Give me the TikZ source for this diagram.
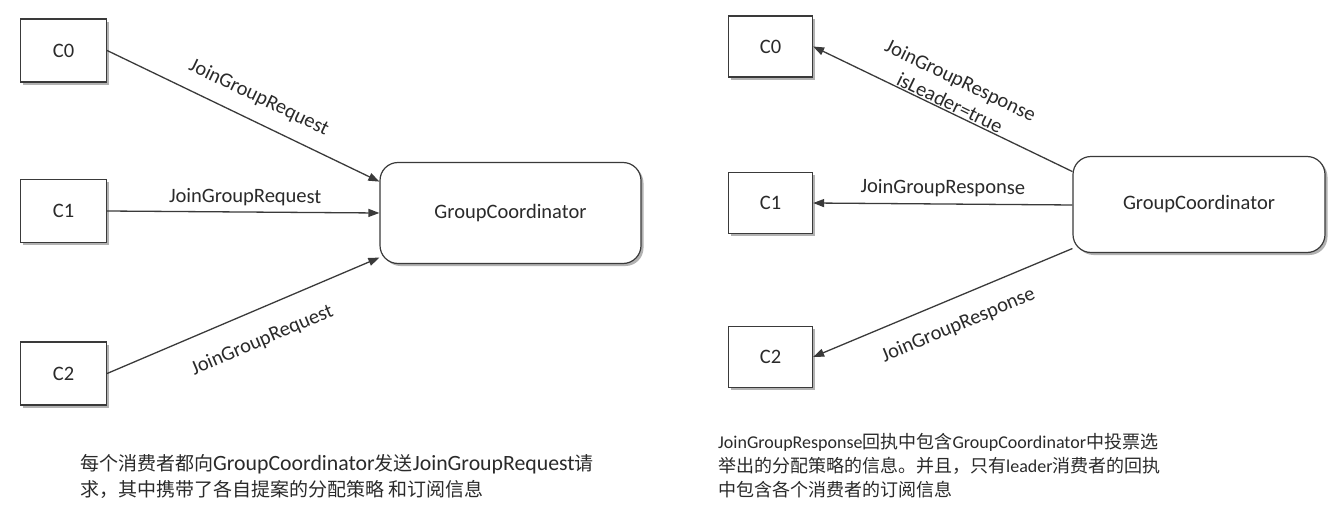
\documentclass[tikz,border=0pt]{standalone}
\usepackage{fontspec}
\setmainfont{Carlito}
\newfontfamily\cjk{Noto Sans CJK SC}
\usetikzlibrary{arrows.meta,shadows,calc}
\definecolor{ink}{HTML}{2A2A2A}
\definecolor{edgec}{HTML}{3A3A3A}
\tikzset{
  cbox/.style={draw=edgec, line width=1.2pt, fill=white, minimum width=86pt,
    minimum height=63pt, inner sep=0pt, text=ink,
    font=\fontsize{20.5}{24}\selectfont,
    drop shadow={shadow xshift=2.5pt, shadow yshift=-2.5pt, fill=black, opacity=0.3}},
  gcbox/.style={cbox, rounded corners=18pt},
  arr/.style={draw=edgec, line width=1.3pt, -{Triangle[length=11pt,width=8pt]}},
  lbl/.style={font=\fontsize{20.5}{25}\selectfont, text=ink, sloped, inner sep=0pt},
  noteL/.style={font=\fontsize{21.8}{24}\selectfont, text=ink, anchor=base west, inner sep=0pt},
  noteR/.style={font=\fontsize{18}{24}\selectfont, text=ink, anchor=base west, inner sep=0pt},
}
\newcommand{\zhL}[1]{{\fontsize{19}{24}\cjk #1}}
\newcommand{\zhR}[1]{{\fontsize{18}{24}\cjk #1}}
\begin{document}
\begin{tikzpicture}[x=1pt,y=-1pt]
\path[use as bounding box] (0,0) rectangle (1342,530);
% ---------- left diagram ----------
\node[cbox] (lc0) at (63.5,50.5) {C0};
\node[cbox] (lc1) at (63.5,211) {C1};
\node[cbox] (lc2) at (63.5,373.5) {C2};
\node[gcbox, minimum width=261pt, minimum height=101pt] (lgc) at (510.5,213) {GroupCoordinator};
\coordinate (lgcA) at ($(lgc.north west)!0.193!(lgc.south west)$);
\coordinate (lgcB) at ($(lgc.north west)!0.5!(lgc.south west)$);
\coordinate (lgcC) at ($(lgc.north west)!0.936!(lgc.south west)$);
\draw[arr] (lc0.east) -- (lgcA) node[lbl, pos=0.52, above=14pt] {JoinGroupRequest};
\draw[arr] (lc1.east) -- (lgcB) node[lbl, pos=0.507, above=5.5pt] {JoinGroupRequest};
\draw[arr] (lc2.east) -- (lgcC) node[lbl, pos=0.526, below=21pt] {JoinGroupRequest};
% ---------- right diagram ----------
\node[cbox, minimum width=84pt, minimum height=61pt] (rc0) at (770.5,46.5) {C0};
\node[cbox, minimum width=84pt, minimum height=61pt] (rc1) at (770.5,203) {C1};
\node[cbox, minimum width=84pt, minimum height=61pt] (rc2) at (770.5,357) {C2};
\node[gcbox, minimum width=252pt, minimum height=96pt] (rgc) at (1199,204.5) {GroupCoordinator};
\coordinate (rgcA) at ($(rgc.north west)!0.161!(rgc.south west)$);
\coordinate (rgcB) at ($(rgc.north west)!0.505!(rgc.south west)$);
\coordinate (rgcC) at ($(rgc.north west)!0.953!(rgc.south west)$);
\draw[arr] (rgcA) -- (rc0.east) node[lbl, pos=0.487, above=1pt, align=center] {JoinGroupResponse\\isLeader=true};
\draw[arr] (rgcB) -- (rc1.east) node[lbl, pos=0.5, above=6.5pt] {JoinGroupResponse};
\draw[arr] (rgcC) -- (rc2.east) node[lbl, pos=0.48, below=17.5pt] {JoinGroupResponse};
% ---------- captions ----------
\node[noteL] (l1) at (80,470) {\zhL{每个消费者都向}GroupCoordinator\zhL{发送}JoinGroupRequest\zhL{请}};
\node[noteL] (l2) at (80,496) {\zhL{求，其中携带了各自提案的分配策略 和订阅信息}};
\node[noteR] (r1) at (718,448) {JoinGroupResponse\zhR{回执中包含}GroupCoordinator\zhR{中投票选}};
\node[noteR] (r2) at (718,472) {\zhR{举出的分配策略的信息。并且，只有}leader\zhR{消费者的回执}};
\node[noteR] (r3) at (718,496) {\zhR{中包含各个消费者的订阅信息}};
\end{tikzpicture}
\end{document}
